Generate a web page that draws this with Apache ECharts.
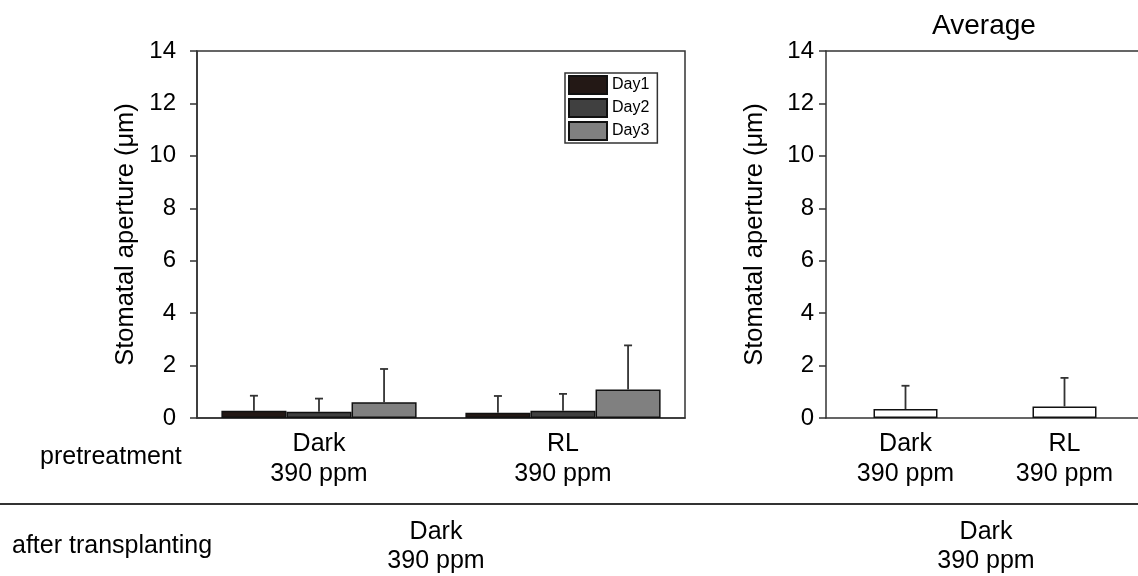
<!DOCTYPE html>
<html>
<head>
<meta charset="utf-8">
<script src="https://cdn.jsdelivr.net/npm/echarts@6/dist/echarts.min.js"></script>
<style>
html,body{margin:0;padding:0;background:#fff;}
#chart{width:1138px;height:576px;}
</style>
</head>
<body>
<div id="chart"></div>
<script>
var categories = ['Dark\n390 ppm', 'RL\n390 ppm'];
var dayNames = ['Day1', 'Day2', 'Day3'];
var day1 = [0.28, 0.20];
var day1Sd = [0.57, 0.64];
var day2 = [0.24, 0.28];
var day2Sd = [0.50, 0.64];
var day3 = [0.60, 1.09];
var day3Sd = [1.27, 1.68];
var avg = [0.34, 0.44];
var avgSd = [0.89, 1.09];
var yTicks = [0, 2, 4, 6, 8, 10, 12, 14];

var FONT = 'Liberation Sans, Arial, sans-serif';
var lineCol = '#333';
var dayColors = ['#231815', '#404040', '#808080'];

// error bar (upper side only), shifted to the bar of series idx out of n
function errRender(vals, sds, idx, n, gapRatio) {
	return function (params, api) {
		var i = api.value(0);
		var band = api.size([1, 0])[0];
		var bw = band * (1 - gapRatio) / n;
		var off = (idx - (n - 1) / 2) * bw;
		var base = api.coord([i, vals[i]]);
		var top = api.coord([i, vals[i] + sds[i]]);
		var x = base[0] + off;
		var st = { stroke: lineCol, lineWidth: 1.8 };
		return {
			type: 'group',
			children: [
				{ type: 'line', shape: { x1: x, y1: base[1], x2: x, y2: top[1] }, style: st },
				{ type: 'line', shape: { x1: x - 4, y1: top[1], x2: x + 4, y2: top[1] }, style: st }
			]
		};
	};
}

function yAxisCfg(gridIndex, margin) {
	return {
		gridIndex: gridIndex,
		type: 'value',
		min: yTicks[0],
		max: yTicks[yTicks.length - 1],
		interval: 2,
		name: 'Stomatal aperture (\u03bcm)',
		nameLocation: 'middle',
		nameGap: 58,
		nameTextStyle: { fontSize: 25.5, color: '#000', fontFamily: FONT },
		axisLine: { show: true, lineStyle: { color: lineCol, width: 1.5 } },
		axisTick: { show: true, length: 7, lineStyle: { color: lineCol, width: 1.5 } },
		axisLabel: { fontSize: 24, color: '#000', fontFamily: FONT, margin: margin },
		splitLine: { show: false }
	};
}

function xAxisCfg(gridIndex) {
	return {
		gridIndex: gridIndex,
		type: 'category',
		data: categories,
		axisLine: { show: true, lineStyle: { color: lineCol, width: 1.5 } },
		axisTick: { show: false },
		splitLine: { show: false },
		axisLabel: { fontSize: 25, lineHeight: 30, color: '#000', fontFamily: FONT, margin: 11 }
	};
}

var dayVals = [day1, day2, day3];
var daySds = [day1Sd, day2Sd, day3Sd];
var series = [];
for (var d = 0; d < 3; d++) {
	series.push({
		name: dayNames[d],
		type: 'bar',
		xAxisIndex: 0,
		yAxisIndex: 0,
		data: dayVals[d],
		barGap: 0,
		barCategoryGap: '20%',
		itemStyle: { color: dayColors[d], borderColor: '#111', borderWidth: 1.5 }
	});
}
for (var d = 0; d < 3; d++) {
	series.push({
		type: 'custom',
		xAxisIndex: 0,
		yAxisIndex: 0,
		data: categories.map(function (c, i) { return [i]; }),
		renderItem: errRender(dayVals[d], daySds[d], d, 3, 0.2),
		z: 5
	});
}
series.push({
	type: 'bar',
	xAxisIndex: 1,
	yAxisIndex: 1,
	data: avg,
	barWidth: 64,
	itemStyle: { color: '#fff', borderColor: '#111', borderWidth: 1.5 }
});
series.push({
	type: 'custom',
	xAxisIndex: 1,
	yAxisIndex: 1,
	data: categories.map(function (c, i) { return [i]; }),
	renderItem: errRender(avg, avgSd, 0, 1, 1 - 64 / 159),
	z: 5
});

// top frame line of the right panel (no right border there)
var topAxis = {
	gridIndex: 1,
	type: 'category',
	position: 'top',
	data: categories,
	axisLine: { show: true, lineStyle: { color: lineCol, width: 1.5 } },
	axisTick: { show: false },
	splitLine: { show: false },
	axisLabel: { show: false }
};

var chart = echarts.init(document.getElementById('chart'));
chart.setOption({
	backgroundColor: '#fff',
	animation: false,
	title: {
		text: 'Average',
		left: 979,
		top: 7,
		textAlign: 'center',
		textStyle: { fontSize: 28, fontWeight: 'normal', color: '#000', fontFamily: FONT }
	},
	legend: {
		data: dayNames,
		orient: 'vertical',
		left: 565,
		top: 73,
		itemWidth: 38,
		itemHeight: 18,
		itemGap: 3,
		padding: [2, 8, 2, 3],
		borderColor: lineCol,
		borderWidth: 1.5,
		icon: 'rect',
		textStyle: { fontSize: 16, lineHeight: 18, color: '#000', fontFamily: FONT }
	},
	grid: [
		{ left: 197, right: 453, top: 51, bottom: 158, show: true, borderColor: lineCol, borderWidth: 1.5, outerBoundsMode: 'none' },
		{ left: 826, width: 318, top: 51, bottom: 158, show: false, outerBoundsMode: 'none' }
	],
	xAxis: [xAxisCfg(0), xAxisCfg(1), topAxis],
	yAxis: [yAxisCfg(0, 21), yAxisCfg(1, 12)],
	series: series,
	graphic: [
		{ type: 'text', left: 40, top: 445, style: { text: 'pretreatment', fontSize: 25, fill: '#000', fontFamily: FONT } },
		{ type: 'line', shape: { x1: 0, y1: 504, x2: 1138, y2: 504 }, style: { stroke: lineCol, lineWidth: 2 } },
		{ type: 'text', left: 12, top: 534, style: { text: 'after transplanting', fontSize: 25, fill: '#000', fontFamily: FONT } },
		{ type: 'text', x: 436, y: 518, style: { text: 'Dark\n390 ppm', fontSize: 25, lineHeight: 29, align: 'center', fill: '#000', fontFamily: FONT } },
		{ type: 'text', x: 986, y: 518, style: { text: 'Dark\n390 ppm', fontSize: 25, lineHeight: 29, align: 'center', fill: '#000', fontFamily: FONT } }
	]
});
</script>
</body>
</html>
